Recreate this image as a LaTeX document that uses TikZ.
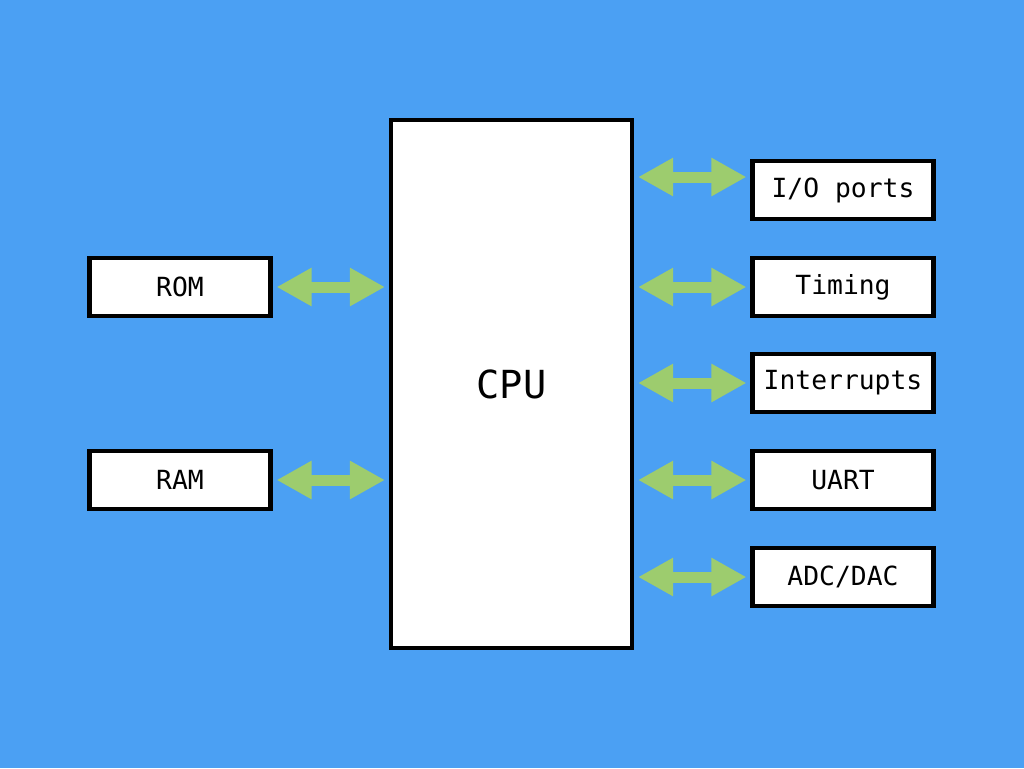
\documentclass[tikz,border=0pt]{standalone}
\usepackage{fontspec}
\setmainfont{DejaVu Sans Mono}
\usetikzlibrary{arrows.meta}
\definecolor{bg}{HTML}{4BA0F3}
\definecolor{arr}{HTML}{9DCC6E}
\begin{document}
\begin{tikzpicture}[x=0.02cm,y=-0.02cm,
  box/.style={draw=black,fill=white,line width=2.4pt,minimum width=3.62cm,minimum height=1.16cm,inner sep=0pt,font=\fontsize{15}{15}\selectfont},
  link/.style={draw=arr,line width=0.22cm,{Triangle[length=0.7cm,width=0.72cm]}-{Triangle[length=0.7cm,width=0.72cm]},shorten <=0.08cm,shorten >=0.08cm}]
\fill[bg] (0,0) rectangle (1024,768);
\node[draw=black,fill=white,line width=2.4pt,minimum width=4.82cm,minimum height=10.56cm,inner sep=0pt,font=\fontsize{22}{22}\selectfont] (cpu) at (511.5,384) {CPU};
\node[box] (rom) at (180,287) {ROM};
\node[box] (ram) at (180,480) {RAM};
\node[box] (io) at (843,190) {I/O ports};
\node[box] (tim) at (843,287) {Timing};
\node[box] (int) at (843,383) {Interrupts};
\node[box] (uart) at (843,480) {UART};
\node[box] (adc) at (843,577) {ADC/DAC};
\coordinate (ioa) at ([yshift=0.26cm]io.west);
\draw[link] (rom.east) -- (cpu.west|-rom.east);
\draw[link] (ram.east) -- (cpu.west|-ram.east);
\draw[link] (cpu.east|-ioa) -- (ioa);
\draw[link] (cpu.east|-tim.west) -- (tim.west);
\draw[link] (cpu.east|-int.west) -- (int.west);
\draw[link] (cpu.east|-uart.west) -- (uart.west);
\draw[link] (cpu.east|-adc.west) -- (adc.west);
\end{tikzpicture}
\end{document}
